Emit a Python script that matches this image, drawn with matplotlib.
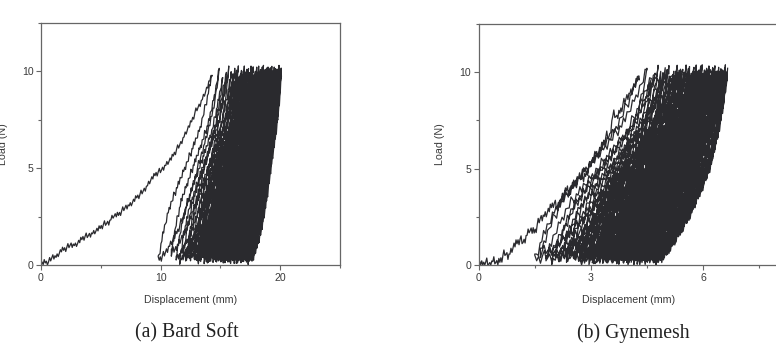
import numpy as np
import matplotlib
matplotlib.use("Agg")
from matplotlib import pyplot as plt
from matplotlib.ticker import MultipleLocator

# --- (a) Bard Soft ---
bard_first_x = [0.0, 0.3, 0.6, 1.0, 1.3, 1.7, 2.1, 2.5, 2.9, 3.5, 3.9, 4.4, 4.9, 5.3, 5.7, 6.0, 6.5,
                7.1, 7.5, 8.0, 8.25, 8.8, 9.2, 9.6, 10.0, 10.5, 10.9, 11.3, 11.7, 12.1, 12.5, 13.0,
                13.3, 13.7, 14.0, 14.3]
bard_first_y = [0.0, 0.15, 0.1, 0.45, 0.4, 0.75, 0.85, 1.05, 1.0, 1.4, 1.5, 1.65, 1.9, 2.1, 2.2, 2.5, 2.6,
                3.0, 3.1, 3.5, 3.6, 4.0, 4.4, 4.7, 4.85, 5.2, 5.5, 5.9, 6.3, 6.8, 7.3, 8.0,
                8.3, 8.85, 9.3, 9.9]
bard_starts = [0.0, 9.8, 10.9, 11.3, 11.6, 11.9, 12.1, 12.3, 12.5, 12.7,
               12.8, 12.9, 13.0, 13.09, 13.19, 13.29, 13.38, 13.47, 13.55, 13.64,
               13.73, 13.82, 13.91, 13.99, 14.07, 14.15, 14.23, 14.31, 14.38, 14.46,
               14.54, 14.62, 14.7, 14.77, 14.83, 14.9, 14.97, 15.04, 15.11, 15.17,
               15.24, 15.31, 15.38, 15.45, 15.51, 15.57, 15.63, 15.69, 15.75, 15.8,
               15.86, 15.92, 15.98, 16.04, 16.09, 16.15, 16.21, 16.27, 16.33, 16.38,
               16.44, 16.5, 16.56, 16.62, 16.67, 16.73, 16.79, 16.85, 16.91, 16.96,
               17.02, 17.08, 17.13, 17.18, 17.22, 17.27, 17.32, 17.37, 17.42, 17.46,
               17.51, 17.56, 17.6]
bard_peaks = [14.3, 14.9, 15.2, 15.5, 15.7, 15.9, 16.05, 16.2, 16.35, 16.5,
              16.6, 16.68, 16.76, 16.84, 16.92, 17.0, 17.07, 17.14, 17.21, 17.28,
              17.35, 17.42, 17.49, 17.56, 17.62, 17.68, 17.74, 17.8, 17.86, 17.92,
              17.98, 18.04, 18.1, 18.15, 18.2, 18.25, 18.3, 18.35, 18.4, 18.45,
              18.5, 18.55, 18.6, 18.65, 18.7, 18.74, 18.78, 18.82, 18.86, 18.9,
              18.94, 18.98, 19.02, 19.06, 19.1, 19.14, 19.18, 19.22, 19.26, 19.3,
              19.34, 19.38, 19.42, 19.46, 19.5, 19.54, 19.58, 19.62, 19.66, 19.7,
              19.74, 19.78, 19.81, 19.84, 19.87, 19.9, 19.93, 19.96, 19.99, 20.02,
              20.05, 20.08, 20.1]
bard_load_t = [0, 0.08, 0.2, 0.32, 0.42, 0.54, 0.65, 0.76, 0.87, 0.95, 1.0]
bard_load_f = [0.02, 0.04, 0.1, 0.17, 0.25, 0.37, 0.5, 0.62, 0.75, 0.88, 1.0]

# --- (b) Gynemesh ---
gyne_first_x = [0.0, 0.1, 0.2, 0.3, 0.4, 0.5, 0.57, 0.7, 0.8, 0.95, 1.1, 1.2, 1.35, 1.5, 1.64, 1.8,
                2.0, 2.1, 2.36, 2.4, 2.7, 2.8, 3.07, 3.2, 3.43, 3.5, 3.6, 3.7, 3.96, 4.1, 4.29]
gyne_first_y = [0.05, 0.0, 0.12, 0.0, 0.25, 0.05, 0.2, 0.6, 0.45, 1.0, 1.3, 1.15, 1.8, 1.7, 2.4, 2.6,
                3.2, 3.0, 4.0, 3.7, 4.6, 4.4, 5.5, 5.8, 6.7, 6.6, 7.9, 7.6, 8.7, 9.0, 9.8]
gyne_starts = [0.55, 1.5, 1.65, 1.8, 1.95, 2.05, 2.15, 2.25, 2.35, 2.45, 2.55, 2.62,
               2.67, 2.71, 2.75, 2.79, 2.83, 2.87, 2.91, 2.95, 2.99, 3.04,
               3.08, 3.12, 3.16, 3.2, 3.24, 3.28, 3.32, 3.35, 3.38, 3.41,
               3.44, 3.47, 3.5, 3.53, 3.56, 3.59, 3.63, 3.66, 3.69, 3.72,
               3.75, 3.78, 3.81, 3.84, 3.87, 3.9, 3.93, 3.96, 3.99, 4.02,
               4.05, 4.08, 4.12, 4.15, 4.18, 4.21, 4.24, 4.27, 4.3, 4.33,
               4.36, 4.39, 4.42, 4.45, 4.48, 4.51, 4.54, 4.57, 4.61, 4.64,
               4.66, 4.68, 4.7, 4.72, 4.74, 4.76, 4.78, 4.8, 4.82, 4.84]
gyne_peaks = [4.29, 4.5, 4.62, 4.72, 4.8, 4.87, 4.93, 4.99, 5.04, 5.09, 5.14, 5.19,
              5.22, 5.25, 5.28, 5.31, 5.34, 5.37, 5.4, 5.43, 5.46, 5.49,
              5.52, 5.55, 5.58, 5.61, 5.64, 5.67, 5.7, 5.72, 5.74, 5.76,
              5.78, 5.8, 5.82, 5.84, 5.86, 5.88, 5.9, 5.92, 5.94, 5.96,
              5.98, 6.0, 6.02, 6.04, 6.06, 6.08, 6.1, 6.12, 6.14, 6.16,
              6.18, 6.2, 6.22, 6.24, 6.26, 6.28, 6.3, 6.32, 6.34, 6.36,
              6.38, 6.4, 6.42, 6.44, 6.46, 6.48, 6.5, 6.52, 6.54, 6.56,
              6.57, 6.58, 6.59, 6.6, 6.61, 6.62, 6.63, 6.64, 6.65, 6.66]
gyne_load_t = [0, 0.1, 0.25, 0.46, 0.62, 0.75, 0.87, 0.95, 1.0]
gyne_load_f = [0.02, 0.04, 0.12, 0.25, 0.38, 0.5, 0.68, 0.85, 1.0]

# shared: unloading shape, peak / valley loads, sensor ripple
unload_t = [0, 0.09, 0.21, 0.4, 0.61, 0.77, 0.89, 1.0]
unload_f = [0.02, 0.16, 0.3, 0.44, 0.59, 0.71, 0.85, 1.0]
peak_loads = [9.8, 10.05, 9.7, 9.95, 10.1, 9.85, 9.65, 10.0, 9.9, 10.15, 9.75]
valley_loads = [0.3, 0.05, 0.45, 0.15, 0.0, 0.35, 0.1, 0.5, 0.2]
ripple = [0, 0.15, -0.1, 0.2, -0.05, 0.1, -0.2, 0.05, 0.25, -0.1, 0.0, 0.12, -0.18, 0.08, -0.02,
          0.18, -0.12]

LINE = '#2a2a2e'
N_SEG = 60


def build_cycles(first_x, first_y, starts, peaks, load_t, load_f, amp):
    rip = np.array(ripple)
    # first loading curve, resampled so the ripple shows
    fx = np.linspace(first_x[0], first_x[-1], 160)
    fy = np.interp(fx, first_x, first_y) + 0.8 * amp * rip[np.arange(160) % len(rip)]
    xs, ys = list(fx), list(np.clip(fy, 0, None))
    for i in range(len(peaks)):
        pk = peak_loads[i % len(peak_loads)]
        if i > 0:
            v = valley_loads[i % len(valley_loads)]
            t = np.linspace(0, 1, N_SEG)
            f = np.interp(t, load_t, load_f)
            x = starts[i] + t * (peaks[i] - starts[i])
            y = v + f * (pk - v) + amp * rip[(np.arange(N_SEG) + 3 * i) % len(rip)]
            xs += list(x)
            ys += list(np.clip(y, 0, None))
        if i + 1 < len(peaks):
            v = valley_loads[(i + 1) % len(valley_loads)]
            t = np.linspace(1, 0, N_SEG)
            f = np.interp(t, unload_t, unload_f)
            x = starts[i + 1] + t * (peaks[i] - starts[i + 1])
            y = v + f * (pk - v) + amp * rip[(np.arange(N_SEG) + 7 * i) % len(rip)]
            xs += list(x)
            ys += list(np.clip(y, 0, None))
    return xs, ys


def style_axes(ax, xmax, xmajor):
    ax.set_xlim(0, xmax)
    ax.set_ylim(0, 12.5)
    ax.xaxis.set_major_locator(MultipleLocator(xmajor))
    ax.xaxis.set_minor_locator(MultipleLocator(xmajor / 2))
    ax.yaxis.set_major_locator(MultipleLocator(5))
    ax.yaxis.set_minor_locator(MultipleLocator(2.5))
    for s in ax.spines.values():
        s.set_color('#666666')
        s.set_linewidth(0.9)
    ax.tick_params(which='major', direction='out', length=3.5, width=0.8, color='#666666',
                   labelsize=7.6, labelcolor='#3a3a3a', pad=2)
    ax.tick_params(which='minor', direction='out', length=2.2, width=0.8, color='#666666')
    ax.set_xlabel('Displacement (mm)', fontsize=7.7, color='#3a3a3a')
    ax.set_ylabel('Load (N)', fontsize=7.7, color='#3a3a3a')
    ax.xaxis.set_label_coords(0.5, -0.125)
    ax.yaxis.set_label_coords(-0.112, 0.5)


fig = plt.figure(figsize=(7.76, 3.5), dpi=100)
plt.rcParams['font.family'] = ['Liberation Sans', 'DejaVu Sans']

ax1 = fig.add_axes([41 / 776, 85 / 350, 299 / 776, 242 / 350])
bx, by = build_cycles(bard_first_x, bard_first_y, bard_starts, bard_peaks, bard_load_t, bard_load_f, 0.9)
ax1.plot(bx, by, color=LINE, lw=0.9)
style_axes(ax1, 25, 10)

ax2 = fig.add_axes([478.7 / 776, 85 / 350, 299 / 776, 241 / 350])
gx, gy = build_cycles(gyne_first_x, gyne_first_y, gyne_starts, gyne_peaks, gyne_load_t, gyne_load_f, 1.3)
ax2.plot(gx, gy, color=LINE, lw=0.9)
style_axes(ax2, 8, 3)

fig.text(187 / 776, 1 - 333 / 350, '(a) Bard Soft', family='Liberation Serif', fontsize=14.2,
         ha='center', va='center', color='#222222')
fig.text(633 / 776, 1 - 333 / 350, '(b) Gynemesh', family='Liberation Serif', fontsize=14.2,
         ha='center', va='center', color='#222222')

fig.savefig('out.png', dpi=100)
